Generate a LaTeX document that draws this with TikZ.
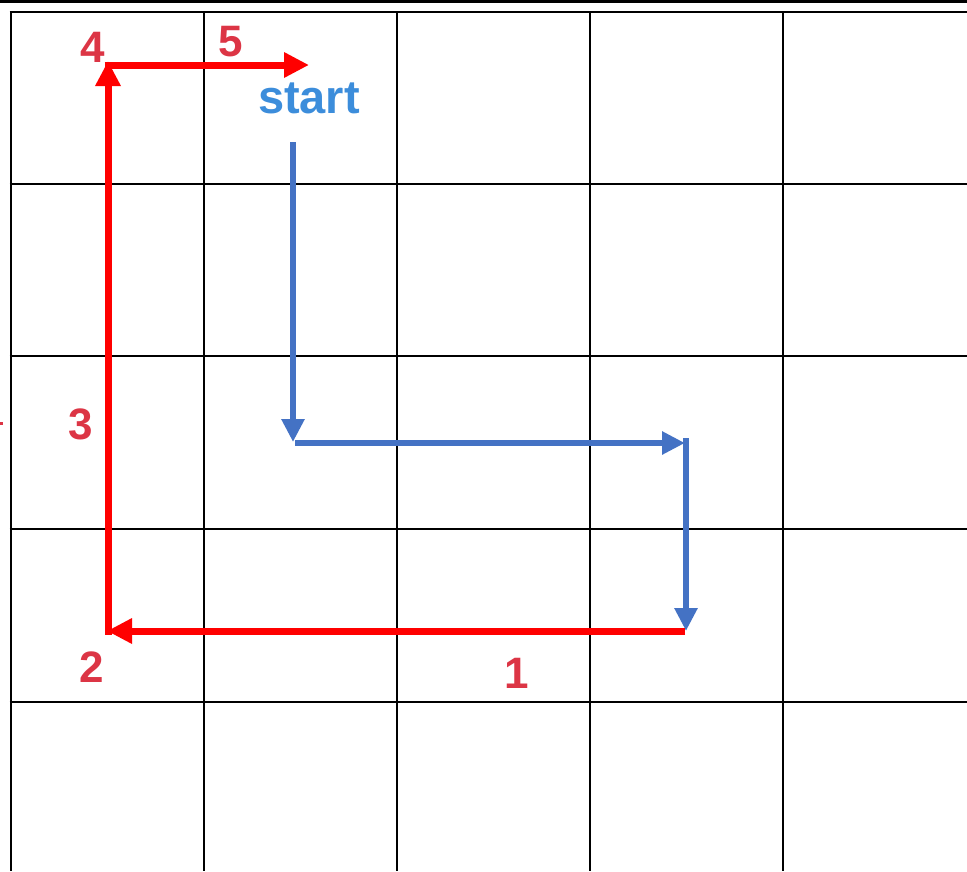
\documentclass[tikz,border=0pt]{standalone}
\usepackage{fontspec}
\setmainfont{Liberation Sans}
\usetikzlibrary{arrows.meta}
\definecolor{gridblack}{HTML}{000000}
\definecolor{redpath}{HTML}{FF0000}
\definecolor{bluepath}{HTML}{4472C4}
\definecolor{redlabel}{HTML}{DC3545}
\definecolor{bluelabel}{HTML}{3C8DDB}
\begin{document}
\begin{tikzpicture}[x=1pt,y=-1pt,
  gridline/.style={line width=2.8pt,draw=gridblack},
  redarrow/.style={line width=7pt,draw=redpath,-{Triangle[length=25pt,width=24pt]}},
  bluearrow/.style={line width=6pt,draw=bluepath,-{Triangle[length=23pt,width=22pt]}},
  redlab/.style={text=redlabel,font=\bfseries\fontsize{44}{44}\selectfont,inner sep=0pt},
  bluelab/.style={text=bluelabel,font=\bfseries\fontsize{47}{47}\selectfont,inner sep=0pt}]
\useasboundingbox (0,0) rectangle (967,871);
% top rule
\draw[line width=2.8pt] (0,1.3) -- (967,1.3);
% grid
\foreach \x in {11,204,397,590,783} \draw[gridline] (\x,11) -- (\x,871);
\foreach \y in {12,184,356,529,702} \draw[gridline] (9.6,\y) -- (967,\y);
% small red mark at left
\draw[redlabel,line width=3pt] (0,423.5) -- (3,423.5);
% coordinates
\coordinate (b0) at (293,142);
\coordinate (b1) at (293,442);
\coordinate (b2s) at (295,443);
\coordinate (b2) at (685,443);
\coordinate (b3s) at (686,438);
\coordinate (b3) at (686,631);
\coordinate (r0) at (685,631);
\coordinate (r1) at (107,631);
\coordinate (r1s) at (108,634.5);
\coordinate (r2) at (108,61);
\coordinate (r2s) at (104.5,65);
\coordinate (r3) at (309,65);
% blue path
\draw[bluearrow] (b0) -- (b1);
\draw[bluearrow] (b2s) -- (b2);
\draw[bluearrow] (b3s) -- (b3);
% red path
\draw[redarrow] (r0) -- (r1);
\draw[redarrow] (r1s) -- (r2);
\draw[redarrow] (r2s) -- (r3);
% labels
\node[bluelab] (start) at (309,98) {start};
\node[redlab] (l1) at (517,673) {1};
\node[redlab] (l2) at (92,667) {2};
\node[redlab] (l3) at (81,424) {3};
\node[redlab] (l4) at (93,47) {4};
\node[redlab] (l5) at (231,42) {5};
\end{tikzpicture}
\end{document}
